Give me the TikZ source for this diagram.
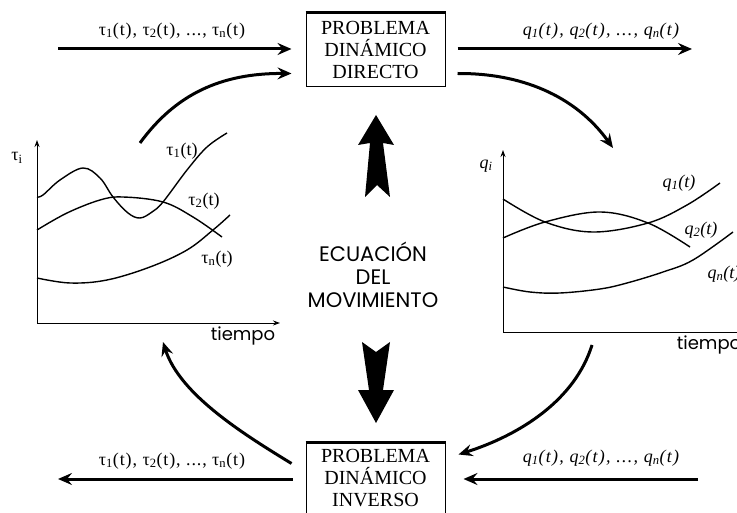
\documentclass[tikz,border=0pt]{standalone}
\usepackage{fontspec}
\setmainfont{Liberation Serif}
\newfontfamily\geofont{Poppins}
\newfontfamily\seqfont[LetterSpace=5]{Liberation Serif}
\newfontfamily\seqitfont[LetterSpace=7]{Liberation Serif Italic}
\usepackage{tikz}
\usetikzlibrary{arrows.meta,calc}
\newcommand{\tauseq}{\seqfont τ\textsubscript{1}(t), τ\textsubscript{2}(t), ..., τ\textsubscript{n}(t)}
\newcommand{\qseq}{\seqitfont q\textsubscript{1}(t), q\textsubscript{2}(t), ..., q\textsubscript{n}(t)}

\begin{document}
\begin{tikzpicture}[x=1pt, y=-1pt,
    probbox/.style={draw, line width=1pt, minimum width=139pt, align=center,
        font=\fontsize{20}{22}\selectfont},
    flow/.style={line width=3pt, -{Stealth[length=14pt, width=12pt, inset=5pt]}},
    curve/.style={line width=1.4pt, smooth, tension=0.6},
    axis/.style={line width=0.9pt, -{Stealth[length=7pt, width=5pt]}},
    lbl/.style={font=\fontsize{18}{20}\selectfont},
    sanslbl/.style={font=\geofont\fontsize{18}{20}\selectfont}]
\clip (0,0) rectangle (737,513);

% Problem boxes
\node[probbox, minimum height=74pt] (directo) at (375.5,50) {PROBLEMA\\DINÁMICO\\DIRECTO};
\node[probbox, minimum height=70pt] (inverso) at (375.5,478) {PROBLEMA\\DINÁMICO\\INVERSO};
\draw[line width=2.6pt] (directo.north west) -- (directo.north east);
\draw[line width=2.6pt] (inverso.north west) -- (inverso.north east);

% Direct problem: inputs and outputs
\coordinate (tauin) at (58,49);
\coordinate (qout) at (692,49);
\coordinate (tauplot) at (140,143);
\coordinate (qplot) at (613,148);
\draw[flow, shorten >=14pt] (tauin) -- (tauin -| directo.west);
\node[lbl] (tautop) at (172,31) {\tauseq};
\draw[flow, shorten <=12pt] (directo.east |- qout) -- (qout);
\node[lbl] (qtop) at (601,31) {\qseq};
\draw[flow] (tauplot) .. controls (175,95) and (220,73) .. ($(directo.south west)+(-14,-14)$);
\draw[flow] ($(directo.south east)+(12,-14)$) .. controls (520,73) and (575,95) .. (qplot);

% Inverse problem: inputs and outputs
\coordinate (qin) at (698,479);
\coordinate (tauout) at (58,479);
\coordinate (qplotb) at (592,345);
\coordinate (tauplotb) at (163,342);
\draw[flow, shorten >=18pt] (qin) -- (qin -| inverso.east);
\node[lbl] (qbot) at (601,458) {\qseq};
\draw[flow, shorten <=13pt] (inverso.west |- tauout) -- (tauout);
\node[lbl] (taubot) at (172,461) {\tauseq};
\draw[flow] (qplotb) .. controls (575,400) and (520,435) .. ($(inverso.north east)+(13,12)$);
\draw[flow] ($(inverso.north west)+(-14,21)$) .. controls (245,435) and (180,395) .. (tauplotb);

% Equation of motion
\node[font=\geofont\fontsize{21}{23}\selectfont, align=center] (ecuacion) at (373,275)
    {ECUACIÓN\\DEL\\MOVIMIENTO};
\fill (376,115) -- (394,145) -- (383,143) -- (390,197) -- (377,185) -- (365,197)
    -- (370,143) -- (358,145) -- cycle;
\fill (362,342) -- (376,352) -- (390,342) -- (383,390) -- (394,390) -- (376,423)
    -- (358,390) -- (369,390) -- cycle;

% Left plot: torques
\coordinate (lo) at (37,323);
\draw[axis] (lo) -- (37,140);
\draw[axis] (lo) -- (280,323);
\node[lbl] (taui) at (17,158) {τ\textsubscript{i}};
\node[sanslbl] (tiempoa) at (243,336) {tiempo};
\draw[curve] plot coordinates {(37,197) (43,195) (60,180) (83,168) (100,178) (113,197)
    (128,213) (140,218) (152,212) (163,202) (187,170) (207,147) (227,133)};
\draw[curve] plot coordinates {(37,230) (67,213) (100,200) (123,197) (163,202) (193,217) (222,237)};
\draw[curve] plot coordinates {(37,278) (70,283) (107,280) (150,267) (187,250) (213,230) (230,215)};
\node[lbl] (tau1) at (182,151) {τ\textsubscript{1}(t)};
\node[lbl] (tau2) at (204,201) {τ\textsubscript{2}(t)};
\node[lbl] (taun) at (217,259) {τ\textsubscript{n}(t)};

% Right plot: positions
\coordinate (ro) at (503,332);
\draw[axis] (ro) -- (503,150);
\draw[axis] (ro) -- (745,332);
\node[lbl] (qi) at (486,166) {\textit{q\textsubscript{i}}};
\node[sanslbl] (tiempob) at (709,345) {tiempo};
\draw[curve] plot coordinates {(503,199) (545,222) (593,232) (648,223) (687,205) (720,183)};
\draw[curve] plot coordinates {(503,238) (545,222) (600,212) (648,223) (690,247)};
\draw[curve] plot coordinates {(503,287) (530,292) (560,293) (600,289) (627,283) (663,272)
    (693,260) (733,232)};
\node[lbl] (q1) at (679,183) {\textit{q\textsubscript{1}(t)}};
\node[lbl] (q2) at (701,230) {\textit{q\textsubscript{2}(t)}};
\node[lbl] (qn) at (724,274) {\textit{q\textsubscript{n}(t)}};
\end{tikzpicture}
\end{document}
